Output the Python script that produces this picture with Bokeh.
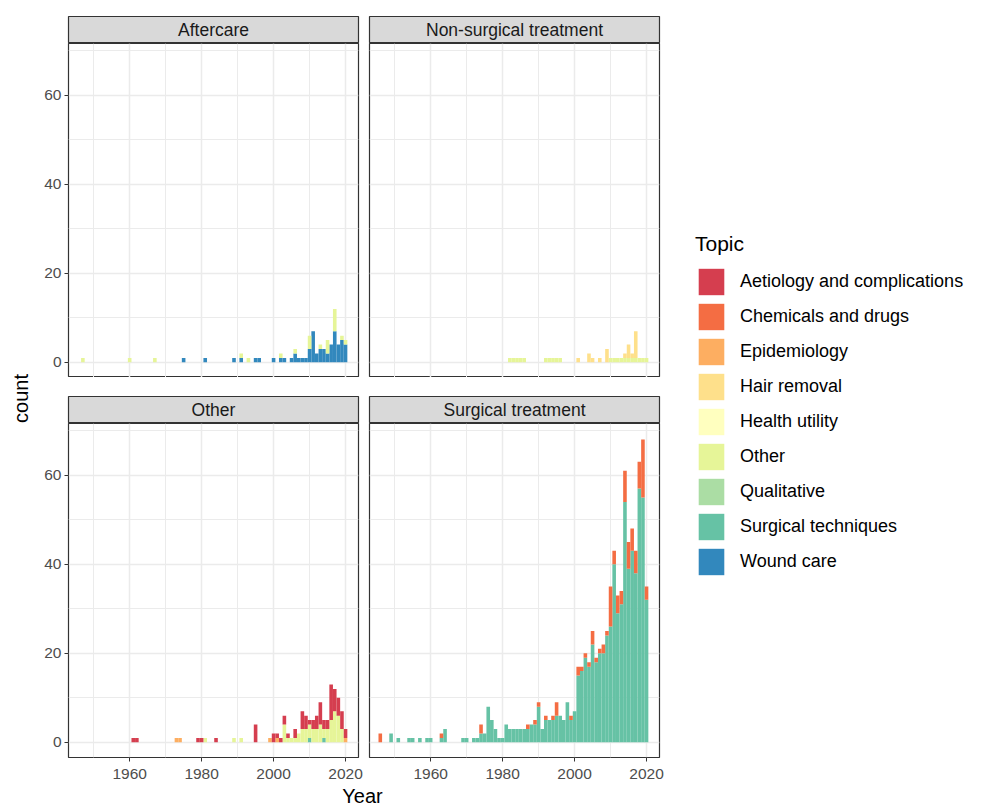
import math
from bokeh.plotting import figure
from bokeh.models import (Range1d, FactorRange, FixedTicker, LinearAxis, Grid, Label, Legend,
                          LegendItem, ColumnDataSource)
from bokeh.layouts import row, column
from bokeh.embed import file_html
from bokeh.resources import INLINE

# ---------------- data ----------------
topics = ["Aetiology and complications", "Chemicals and drugs", "Epidemiology",
          "Hair removal", "Health utility", "Other", "Qualitative",
          "Surgical techniques", "Wound care"]
colors = ["#D53E4F", "#F46D43", "#FDAE61", "#FEE08B", "#FFFFBF", "#E6F598",
          "#ABDDA4", "#66C2A5", "#3288BD"]
panels = ["Aftercare", "Non-surgical treatment", "Other", "Surgical treatment"]
years = list(range(1946, 2021))
x_ticks = [1960, 1980, 2000, 2020]
x_minor = [1950, 1970, 1990, 2010]
y_ticks = [0, 20, 40, 60]
y_minor = [10, 30, 50, 70]

# Aftercare
af_wound_years = [1975, 1981, 1989, 1991, 1995, 1996, 2000, 2002, 2003, 2005, 2006, 2007,
                  2008, 2009, 2010, 2011, 2012, 2013, 2014, 2015, 2016, 2017, 2018, 2019, 2020]
af_wound_counts = [1, 1, 1, 1, 1, 1, 1, 1, 1, 1, 2, 1, 1, 1, 3, 7, 2, 3, 3, 2, 4, 7, 4, 5, 4]
af_other_years = [1947, 1960, 1967, 1991, 1993, 2002, 2006, 2010, 2013, 2015, 2017, 2019, 2020]
af_other_counts = [1, 1, 1, 1, 1, 1, 1, 3, 1, 3, 5, 1, 1]

# Non-surgical treatment
ns_other_years = [1982, 1983, 1984, 1985, 1986, 1992, 1993, 1994, 1995, 1996,
                  2010, 2011, 2012, 2013, 2014, 2015, 2016, 2017, 2018, 2019, 2020]
ns_other_counts = [1, 1, 1, 1, 1, 1, 1, 1, 1, 1, 1, 1, 1, 1, 1, 1, 1, 1, 1, 1, 1]
ns_hair_years = [2001, 2004, 2005, 2007, 2009, 2014, 2015, 2016, 2017]
ns_hair_counts = [1, 2, 1, 1, 3, 1, 3, 1, 6]

# Other
ot_aet_years = [1961, 1962, 1979, 1980, 1984, 1995, 2000, 2001, 2002, 2003, 2004, 2005, 2006,
                2008, 2009, 2010, 2011, 2012, 2013, 2014, 2015, 2016, 2017, 2018, 2019, 2020]
ot_aet_counts = [1, 1, 1, 1, 1, 4, 2, 1, 1, 2, 1, 0, 2, 4, 3, 1, 2, 3, 5, 2, 2, 8, 5, 4, 4, 2]
ot_other_years = [1981, 1989, 1991, 2003, 2004, 2005, 2006, 2007, 2008, 2009, 2010, 2011,
                  2012, 2013, 2014, 2015, 2016, 2017, 2018, 2019]
ot_other_counts = [1, 1, 1, 4, 1, 1, 1, 2, 3, 3, 3, 3, 3, 4, 2, 3, 5, 7, 6, 3]
ot_epi_years = [1973, 1974, 1999, 2001, 2020]
ot_epi_counts = [1, 1, 1, 1, 1]
ot_surg_years = [2010, 2014]
ot_surg_counts = [1, 1]

# Surgical treatment
su_surg_years = [1949, 1951, 1954, 1955, 1957, 1959, 1960, 1963, 1964, 1969, 1970, 1972, 1973,
                 1974, 1975, 1976, 1977, 1978, 1979, 1980, 1981, 1982, 1983, 1984, 1985, 1986,
                 1987, 1988, 1989, 1990, 1991, 1992, 1993, 1994, 1995, 1996, 1997, 1998, 1999,
                 2000, 2001, 2002, 2003, 2004, 2005, 2006, 2007, 2008, 2009, 2010, 2011, 2012,
                 2013, 2014, 2015, 2016, 2017, 2018, 2019, 2020]
su_surg_counts = [2, 1, 1, 1, 1, 1, 1, 1, 3, 1, 1, 1, 1,
                  2, 2, 8, 5, 3, 1, 1, 4, 3, 3, 3, 3, 3,
                  3, 4, 4, 8, 3, 5, 5, 5, 6, 6, 5, 9, 5,
                  7, 15, 16, 19, 17, 22, 18, 20, 20, 24, 26, 40, 29,
                  31, 54, 39, 43, 38, 57, 55, 32]
su_chem_years = [1946, 1963, 1974, 1987, 1989, 1990, 1992, 1994, 1995, 1999, 2001, 2002, 2003,
                 2004, 2005, 2006, 2007, 2008, 2009, 2010, 2011, 2012, 2013, 2014, 2015, 2016,
                 2017, 2018, 2019, 2020]
su_chem_counts = [2, 1, 2, 1, 1, 1, 1, 1, 3, 1, 2, 1, 1,
                  1, 3, 1, 1, 2, 1, 9, 3, 4, 3, 7, 6, 5,
                  5, 6, 13, 3]

panel_data = {
    "Aftercare": {"Wound care": (af_wound_years, af_wound_counts),
                  "Other": (af_other_years, af_other_counts)},
    "Non-surgical treatment": {"Other": (ns_other_years, ns_other_counts),
                               "Hair removal": (ns_hair_years, ns_hair_counts)},
    "Other": {"Aetiology and complications": (ot_aet_years, ot_aet_counts),
              "Other": (ot_other_years, ot_other_counts),
              "Epidemiology": (ot_epi_years, ot_epi_counts),
              "Surgical techniques": (ot_surg_years, ot_surg_counts)},
    "Surgical treatment": {"Surgical techniques": (su_surg_years, su_surg_counts),
                           "Chemicals and drugs": (su_chem_years, su_chem_counts)},
}

FONT = "Liberation Sans"
X_RANGE = (1943.0, 2023.6)
Y_RANGE = (-3.4, 71.6)
FRAME_W = 290
FRAME_H = 334
STRIP_H = 27


def make_source(name):
    cols = {"year": years}
    for i, t in enumerate(topics):
        vals = [0] * len(years)
        if t in panel_data[name]:
            ys, cs = panel_data[name][t]
            for y, c in zip(ys, cs):
                vals[years.index(y)] += c
        cols["t%d" % i] = vals
    return ColumnDataSource(cols)


def make_strip(name, left, right, top):
    s = figure(width=left + FRAME_W + right, height=STRIP_H + top,
               x_range=Range1d(0, 1), y_range=Range1d(0, 1),
               x_axis_type=None, y_axis_type=None, toolbar_location=None,
               output_backend="svg", min_border_left=left, min_border_right=right,
               min_border_top=top, min_border_bottom=0)
    s.background_fill_color = "#d9d9d9"
    s.outline_line_color = "#333333"
    s.outline_line_width = 1.2
    s.add_layout(Label(x=0.5, y=0.5, text=name, text_align="center",
                       text_baseline="middle", text_font_size="17.5px",
                       text_color="#1a1a1a", text_font=FONT))
    return s


def make_panel(name, left, right, bottom, show_x, show_y):
    p = figure(width=left + FRAME_W + right, height=FRAME_H + bottom,
               x_range=Range1d(*X_RANGE), y_range=Range1d(*Y_RANGE),
               x_axis_type=None, y_axis_type=None, toolbar_location=None,
               output_backend="svg", min_border_left=left, min_border_right=right,
               min_border_top=0, min_border_bottom=bottom)
    p.outline_line_color = "#333333"
    p.outline_line_width = 1.2
    xt = FixedTicker(ticks=x_ticks, minor_ticks=x_minor)
    yt = FixedTicker(ticks=y_ticks, minor_ticks=y_minor)
    for dim, tk in ((0, xt), (1, yt)):
        p.add_layout(Grid(dimension=dim, ticker=tk, grid_line_color="#ebebeb",
                          grid_line_width=1.5, minor_grid_line_color="#ebebeb",
                          minor_grid_line_width=1.0))
    axis_kw = dict(major_tick_out=4, major_tick_in=0, minor_tick_line_color=None,
                   axis_line_color=None, major_tick_line_color="#333333",
                   major_label_text_color="#4d4d4d", major_label_text_font_size="15.5px",
                   major_label_text_font=FONT)
    if show_x:
        p.add_layout(LinearAxis(ticker=xt, major_label_standoff=7, **axis_kw), "below")
    if show_y:
        p.add_layout(LinearAxis(ticker=yt, major_label_standoff=3, **axis_kw), "left")
    src = make_source(name)
    order = list(range(len(topics)))[::-1]  # bottom -> top
    p.vbar_stack(stackers=["t%d" % i for i in order], x="year", width=1.0,
                 fill_color=[colors[i] for i in order], line_color=None, source=src)
    return p


COUNT_W = 32
L_LEFT, L_RIGHT = 36, 5
R_LEFT, R_RIGHT = 6, 10
LEG_W = 310
TOP_GAP, MID_GAP, X_AXIS_H = 16, 19, 28

col_left = column(
    make_strip("Aftercare", L_LEFT, L_RIGHT, TOP_GAP),
    make_panel("Aftercare", L_LEFT, L_RIGHT, 0, False, True),
    make_strip("Other", L_LEFT, L_RIGHT, MID_GAP),
    make_panel("Other", L_LEFT, L_RIGHT, X_AXIS_H, True, True),
)
col_right = column(
    make_strip("Non-surgical treatment", R_LEFT, R_RIGHT, TOP_GAP),
    make_panel("Non-surgical treatment", R_LEFT, R_RIGHT, 0, False, False),
    make_strip("Surgical treatment", R_LEFT, R_RIGHT, MID_GAP),
    make_panel("Surgical treatment", R_LEFT, R_RIGHT, X_AXIS_H, True, False),
)

total_h = (STRIP_H + TOP_GAP) + FRAME_H + (STRIP_H + MID_GAP) + (FRAME_H + X_AXIS_H)

# y axis title
count_fig = figure(width=COUNT_W, height=total_h, x_axis_type=None, y_axis_type=None,
                   x_range=Range1d(0, 1), y_range=Range1d(0, 1),
                   toolbar_location=None, output_backend="svg", min_border=0)
count_fig.outline_line_color = None
count_fig.add_layout(Label(x=20, y=total_h - 398, x_units="screen", y_units="screen",
                           text="count", angle=math.pi / 2, text_align="center",
                           text_baseline="middle", text_font_size="20px",
                           text_color="#000000", text_font=FONT))

# legend (zero-height keys, one per topic)
leg_src = ColumnDataSource(dict(topic=topics, zero=[0] * len(topics), color=colors))
leg_fig = figure(width=LEG_W, height=total_h, x_axis_type=None, y_axis_type=None,
                 x_range=FactorRange(factors=topics), y_range=Range1d(0, 1),
                 toolbar_location=None, output_backend="svg", min_border=0)
leg_fig.outline_line_color = None
leg_r = leg_fig.vbar(x="topic", top="zero", bottom="zero", width=0.5, fill_color="color",
                     line_color=None, source=leg_src)
items = [LegendItem(label=t, renderers=[leg_r], index=i) for i, t in enumerate(topics)]
legend = Legend(items=items, location=(26, total_h - 578), title="Topic",
                title_text_font_size="21px", title_text_font_style="normal",
                title_text_font=FONT, title_text_color="#000000", title_standoff=9,
                label_text_font_size="18px", label_text_font=FONT,
                label_text_color="#000000", glyph_width=32, glyph_height=33,
                label_height=33, spacing=2, padding=0, margin=0, label_standoff=13,
                border_line_color=None, background_fill_alpha=0)
leg_fig.add_layout(legend, "center")

main = row(count_fig, col_left, col_right, leg_fig)

full_w = COUNT_W + L_LEFT + FRAME_W + L_RIGHT + R_LEFT + FRAME_W + R_RIGHT + LEG_W
year_h = 806 - total_h
year_fig = figure(width=full_w, height=year_h, x_axis_type=None, y_axis_type=None,
                  x_range=Range1d(0, 1), y_range=Range1d(0, 1),
                  toolbar_location=None, output_backend="svg", min_border=0)
year_fig.outline_line_color = None
year_fig.add_layout(Label(x=362, y=year_h / 2, x_units="screen", y_units="screen",
                          text="Year", text_align="center", text_baseline="middle",
                          text_font_size="20px", text_color="#000000", text_font=FONT))

page = column(main, year_fig)
open("out.html", "w").write(file_html(page, INLINE))
